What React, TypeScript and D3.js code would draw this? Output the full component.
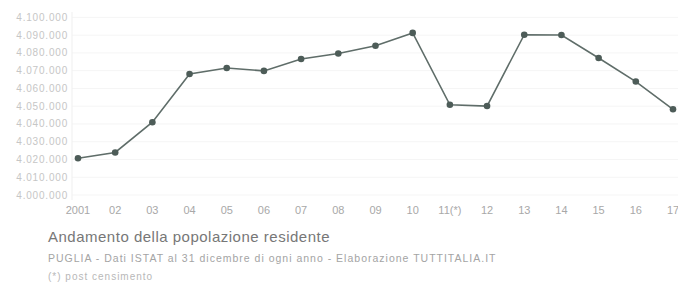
import React, { useRef, useEffect } from 'react';
import * as d3 from 'd3';

const years = ['2001', '02', '03', '04', '05', '06', '07', '08', '09', '10', '11(*)', '12', '13', '14', '15', '16', '17'];
const population = [
    4020707, 4023957, 4040990, 4068167, 4071518, 4069869, 4076546, 4079702, 4084035,
    4091259, 4050803, 4050072, 4090266, 4090105, 4077166, 4063888, 4048242,
];
const yTicks = [4000000, 4010000, 4020000, 4030000, 4040000, 4050000, 4060000, 4070000, 4080000, 4090000, 4100000];

const width = 678;
const height = 289;

const App: React.FC = () => {
    const svgRef = useRef<SVGSVGElement | null>(null);

    useEffect(() => {
        const svg = d3.select(svgRef.current);
        svg.selectAll('*').remove();

        const x = d3.scalePoint<string>()
            .domain(years)
            .range([78, 673]);

        const y = d3.scaleLinear()
            .domain([4000000, 4100000])
            .range([195, 17.4]);

        const fmt = (v: number) => d3.format(',')(v).replace(/,/g, '.');

        // faint grid
        svg.append('g')
            .selectAll('line')
            .data(yTicks)
            .enter()
            .append('line')
            .attr('x1', 72)
            .attr('x2', 678)
            .attr('y1', d => y(d))
            .attr('y2', d => y(d))
            .style('stroke', '#f5f5f5')
            .style('stroke-width', '1px');

        svg.append('line')
            .attr('x1', 72)
            .attr('x2', 72)
            .attr('y1', 12)
            .attr('y2', 200)
            .style('stroke', '#efefef');

        // y tick labels
        svg.append('g')
            .selectAll('text')
            .data(yTicks)
            .enter()
            .append('text')
            .attr('x', 68)
            .attr('y', d => y(d))
            .attr('dy', '0.35em')
            .attr('text-anchor', 'end')
            .style('font-family', 'Arial, "Liberation Sans", sans-serif')
            .style('font-size', '10px')
            .style('letter-spacing', '0.8px')
            .style('fill', '#c6c6c6')
            .text(d => fmt(d));

        // x tick labels
        svg.append('g')
            .selectAll('text')
            .data(years)
            .enter()
            .append('text')
            .attr('x', d => x(d) as number)
            .attr('y', 214)
            .attr('text-anchor', 'middle')
            .style('font-family', 'Arial, "Liberation Sans", sans-serif')
            .style('font-size', '11px')
            .style('fill', '#a8a8a8')
            .text(d => d);

        const line = d3.line<number>()
            .x((d, i) => x(years[i]) as number)
            .y(d => y(d));

        svg.append('path')
            .datum(population)
            .attr('d', line)
            .style('fill', 'none')
            .style('stroke', '#5f6d69')
            .style('stroke-width', '1.6px');

        svg.append('g')
            .selectAll('circle')
            .data(population)
            .enter()
            .append('circle')
            .attr('cx', (d, i) => x(years[i]) as number)
            .attr('cy', d => y(d))
            .attr('r', 3.3)
            .style('fill', '#4d5c58');

        // captions
        svg.append('text')
            .attr('x', 48)
            .attr('y', 242)
            .style('font-family', 'Arial, "Liberation Sans", sans-serif')
            .style('font-size', '15px')
            .style('letter-spacing', '0.5px')
            .style('fill', '#777777')
            .text('Andamento della popolazione residente');

        svg.append('text')
            .attr('x', 48)
            .attr('y', 262)
            .style('font-family', 'Arial, "Liberation Sans", sans-serif')
            .style('font-size', '10.5px')
            .style('letter-spacing', '1px')
            .style('fill', '#a4a4a4')
            .text('PUGLIA - Dati ISTAT al 31 dicembre di ogni anno - Elaborazione TUTTITALIA.IT');

        svg.append('text')
            .attr('x', 48)
            .attr('y', 280)
            .style('font-family', 'Arial, "Liberation Sans", sans-serif')
            .style('font-size', '10px')
            .style('letter-spacing', '1px')
            .style('fill', '#b8b8b8')
            .text('(*) post censimento');
    }, []);

    return (
        <svg
            ref={svgRef}
            width={width}
            height={height}
            style={{ position: 'absolute', left: 0, top: 0, background: '#ffffff' }}
        ></svg>
    );
};

export default App;
